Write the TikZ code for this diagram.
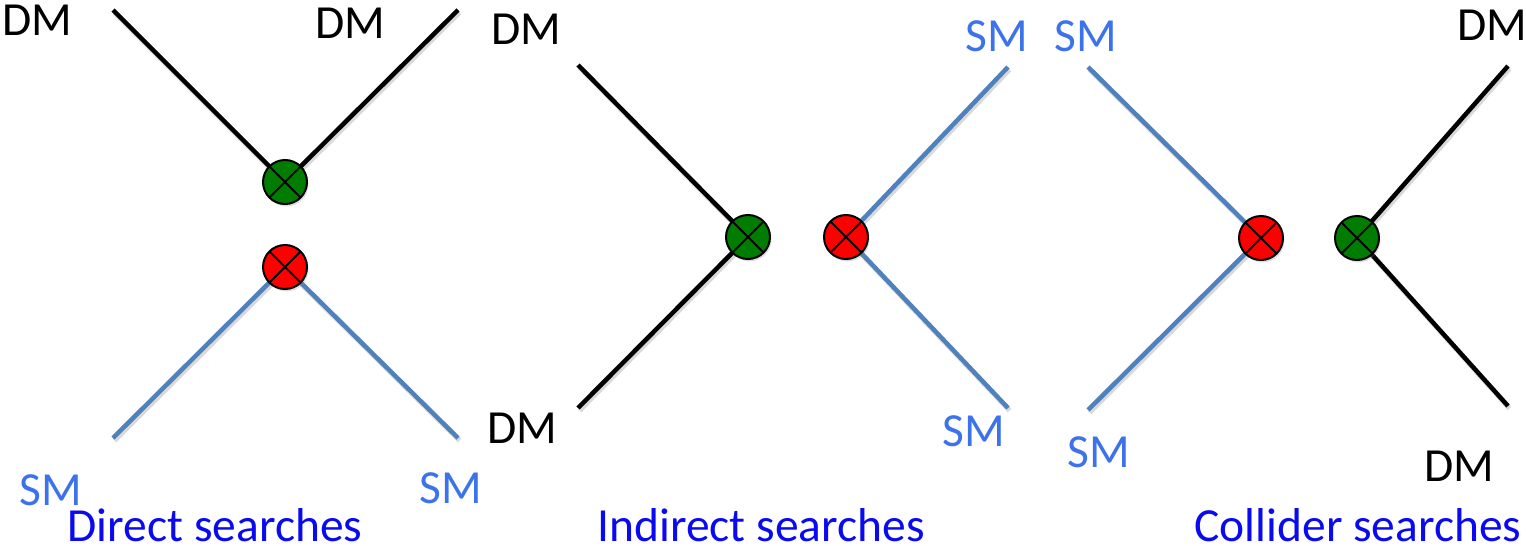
\documentclass[tikz,border=0pt]{standalone}
\usepackage{fontspec}
\setmainfont{Carlito}
\usetikzlibrary{shadows}
\definecolor{dmblack}{RGB}{0,0,0}
\definecolor{smline}{RGB}{79,129,189}
\definecolor{smtext}{RGB}{60,115,235}
\definecolor{ttl}{RGB}{10,10,240}
\definecolor{vgreen}{RGB}{0,125,0}
\definecolor{vred}{RGB}{255,0,0}
\tikzset{
  shade line/.style={preaction={draw=black,opacity=0.15,line width=5pt,
      transform canvas={shift={(1.5pt,-2.5pt)}}}},
  dmline/.style={draw=dmblack,line width=4.5pt,shade line},
  smline/.style={draw=smline,line width=4.5pt,shade line},
  vertex/.style={circle,draw=black,line width=2pt,minimum size=44pt,inner sep=0pt,
      drop shadow={shadow xshift=1.5pt,shadow yshift=-2.5pt,opacity=0.25},
      path picture={\draw[line width=2pt]
        (path picture bounding box.north west) -- (path picture bounding box.south east)
        (path picture bounding box.north east) -- (path picture bounding box.south west);}},
  gvtx/.style={vertex,fill=vgreen},
  rvtx/.style={vertex,fill=vred},
  lbl/.style={inner sep=0pt,anchor=base,font=\fontsize{47.5}{55}\selectfont},
  dmlbl/.style={lbl,text=black},
  smlbl/.style={lbl,text=smtext},
  title/.style={lbl,text=ttl},
}
\begin{document}
\begin{tikzpicture}[x=1pt,y=-1pt]
\useasboundingbox (0,0) rectangle (1526,546);

% vertex positions
\coordinate (c1) at (285,182);
\coordinate (c2) at (285,267);
\coordinate (c3) at (748,237);
\coordinate (c4) at (846,237);
\coordinate (c5) at (1261,238);
\coordinate (c6) at (1357,238);

% free ends of the legs
\coordinate (e1) at (113,10);
\coordinate (e2) at (458,10);
\coordinate (e3) at (113,438);
\coordinate (e4) at (458,438);
\coordinate (e5) at (578,65);
\coordinate (e6) at (578,408);
\coordinate (e7) at (1008,67);
\coordinate (e8) at (1008,408);
\coordinate (e9) at (1088,67);
\coordinate (e10) at (1088,410);
\coordinate (e11) at (1508,66);
\coordinate (e12) at (1508,406);

% direct searches
\draw[dmline] (e1) -- (c1);
\draw[dmline] (e2) -- (c1);
\draw[smline] (e3) -- (c2);
\draw[smline] (e4) -- (c2);
% indirect searches
\draw[dmline] (e5) -- (c3);
\draw[dmline] (e6) -- (c3);
\draw[smline] (e7) -- (c4);
\draw[smline] (e8) -- (c4);
% collider searches
\draw[smline] (e9) -- (c5);
\draw[smline] (e10) -- (c5);
\draw[dmline] (e11) -- (c6);
\draw[dmline] (e12) -- (c6);

\node[gvtx] (v1) at (c1) {};
\node[rvtx] (v2) at (c2) {};
\node[gvtx] (v3) at (c3) {};
\node[rvtx] (v4) at (c4) {};
\node[rvtx] (v5) at (c5) {};
\node[gvtx] (v6) at (c6) {};

% particle labels (placed by baseline)
\node[dmlbl] (l1) at (37,35) {DM};
\node[dmlbl] (l2) at (350,38) {DM};
\node[smlbl] (l3) at (51,505) {SM};
\node[smlbl] (l4) at (451,503) {SM};
\node[dmlbl] (l5) at (526,44) {DM};
\node[dmlbl] (l6) at (522,443) {DM};
\node[smlbl] (l7) at (997,51) {SM};
\node[smlbl] (l8) at (974,446) {SM};
\node[smlbl] (l9) at (1086,51) {SM};
\node[smlbl] (l10) at (1099,467) {SM};
\node[dmlbl] (l11) at (1492,40) {DM};
\node[dmlbl] (l12) at (1459,481) {DM};

% captions
\node[title] (t1) at (215,541) {Direct searches};
\node[title] (t2) at (761,541) {Indirect searches};
\node[title] (t3) at (1358,541) {Collider searches};
\end{tikzpicture}
\end{document}
